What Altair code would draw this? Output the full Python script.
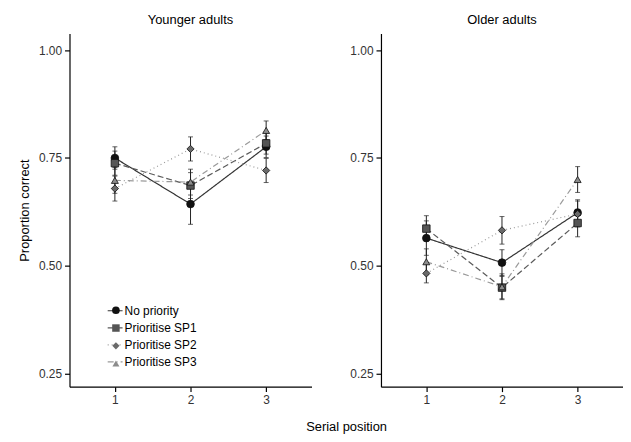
import altair as alt
import pandas as pd

conditions = ["No priority", "Prioritise SP1", "Prioritise SP2", "Prioritise SP3"]
positions = [1, 2, 3]
groups = ["Younger adults", "Older adults"]

# Younger adults: means per serial position
young_no = [0.750, 0.643, 0.776]
young_sp1 = [0.738, 0.686, 0.784]
young_sp2 = [0.679, 0.771, 0.721]
young_sp3 = [0.698, 0.694, 0.814]
young_no_err = [0.026, 0.047, 0.025]
young_sp1_err = [0.028, 0.030, 0.025]
young_sp2_err = [0.029, 0.028, 0.028]
young_sp3_err = [0.030, 0.030, 0.022]

# Older adults
old_no = [0.564, 0.507, 0.623]
old_sp1 = [0.586, 0.449, 0.599]
old_sp2 = [0.482, 0.582, 0.620]
old_sp3 = [0.509, 0.451, 0.700]
old_no_err = [0.040, 0.030, 0.030]
old_sp1_err = [0.030, 0.026, 0.032]
old_sp2_err = [0.022, 0.032, 0.030]
old_sp3_err = [0.030, 0.030, 0.030]

y_ticks = [0.25, 0.50, 0.75, 1.00]

means = {
    "Younger adults": [young_no, young_sp1, young_sp2, young_sp3],
    "Older adults": [old_no, old_sp1, old_sp2, old_sp3],
}
errs = {
    "Younger adults": [young_no_err, young_sp1_err, young_sp2_err, young_sp3_err],
    "Older adults": [old_no_err, old_sp1_err, old_sp2_err, old_sp3_err],
}

rows = []
for g in groups:
    for ci, c in enumerate(conditions):
        for pi, p in enumerate(positions):
            m = means[g][ci][pi]
            e = errs[g][ci][pi]
            rows.append({"group": g, "cond": c, "cond_line": c, "pos": p,
                         "val": m, "lo": m - e, "hi": m + e})
df = pd.DataFrame(rows)

FONT = "Liberation Sans"
line_colors = ["#333333", "#5a5a5a", "#9a9a9a", "#9a9a9a"]
dashes = [[1, 0], [6, 3], [1, 3], [6, 3, 1, 3]]
shapes = ["circle", "square", "diamond", "triangle-up"]
fills = ["#111111", "#555555", "#6a6a6a", "#8c8c8c"]
sizes = [60, 50, 65, 75]

xscale = alt.Scale(domain=[0.4, 3.6], nice=False, zero=False)
yscale = alt.Scale(domain=[0.219, 1.039], nice=False, zero=False)


def panel(g, show_legend, show_ytitle):
    base = alt.Chart(df).transform_filter(alt.datum.group == g)
    x = alt.X("pos:Q", scale=xscale, title=None,
              axis=alt.Axis(values=positions, format="d"))
    y = alt.Y("val:Q", scale=yscale,
              title="Proportion correct" if show_ytitle else None,
              axis=alt.Axis(values=y_ticks, format=".2f"))

    if show_legend:
        line_leg = alt.Legend(orient="none", legendX=37.5, legendY=271, title=None,
                              symbolType="stroke", symbolSize=225,
                              symbolStrokeWidth=1.2, padding=0, rowPadding=2.2,
                              labelOffset=1, labelFont=FONT, labelFontSize=12,
                              labelColor="#000000")
        pt_leg = alt.Legend(orient="none", legendX=40.8, legendY=273, title=None,
                            padding=0, rowPadding=5.9, labelExpr="''",
                            labelFontSize=12, symbolStrokeColor="#111111",
                            symbolStrokeWidth=0.8)
    else:
        line_leg = None
        pt_leg = None

    # line scales use the natural (alphabetical) order of the field, which equals `conditions`
    lines = base.mark_line(strokeWidth=1.2).encode(
        x=x, y=y,
        color=alt.Color("cond_line:N", scale=alt.Scale(range=line_colors), legend=line_leg),
        strokeDash=alt.StrokeDash("cond_line:N", scale=alt.Scale(range=dashes), legend=line_leg),
    )
    bars = base.mark_rule(color="#222222", strokeWidth=1).encode(
        x="pos:Q", y="lo:Q", y2="hi:Q")
    caps_lo = base.mark_tick(orient="horizontal", size=5, thickness=1, color="#222222").encode(
        x="pos:Q", y="lo:Q")
    caps_hi = base.mark_tick(orient="horizontal", size=5, thickness=1, color="#222222").encode(
        x="pos:Q", y="hi:Q")
    points = base.mark_point(filled=True, stroke="#111111", strokeWidth=0.8, opacity=1).encode(
        x="pos:Q", y="val:Q",
        shape=alt.Shape("cond:N", scale=alt.Scale(domain=conditions, range=shapes), legend=pt_leg),
        fill=alt.Fill("cond:N", scale=alt.Scale(domain=conditions, range=fills), legend=pt_leg),
        size=alt.Size("cond:N", scale=alt.Scale(domain=conditions, range=sizes), legend=pt_leg),
    )
    return alt.layer(lines, bars, caps_lo, caps_hi, points).properties(
        width=244, height=356,
        title=alt.TitleParams(g, font=FONT, fontSize=13, fontWeight="normal",
                              color="#000000", anchor="middle", offset=7),
    )


left = panel("Younger adults", True, True)
right = panel("Older adults", False, False)

chart = alt.hconcat(left, right, spacing=38).resolve_scale(
    color="independent", strokeDash="independent", shape="independent",
    fill="independent", size="independent",
).properties(
    title=alt.TitleParams("Serial position", orient="bottom", anchor="middle",
                          font=FONT, fontSize=13, fontWeight="normal",
                          color="#000000", offset=16, dx=26),
    padding={"left": 10, "top": 4, "right": 0, "bottom": 0},
).configure_view(stroke=None).configure_axis(
    grid=False, domainColor="#000000", domainWidth=1.2, tickColor="#000000",
    tickSize=5, tickWidth=1.2, labelFont=FONT, labelFontSize=12, labelColor="#333333",
    labelPadding=3, titleFont=FONT, titleFontSize=13, titleFontWeight="normal",
    titleColor="#000000", titlePadding=7,
)

chart.save("out.html", embed_options={"renderer": "svg", "actions": False})
